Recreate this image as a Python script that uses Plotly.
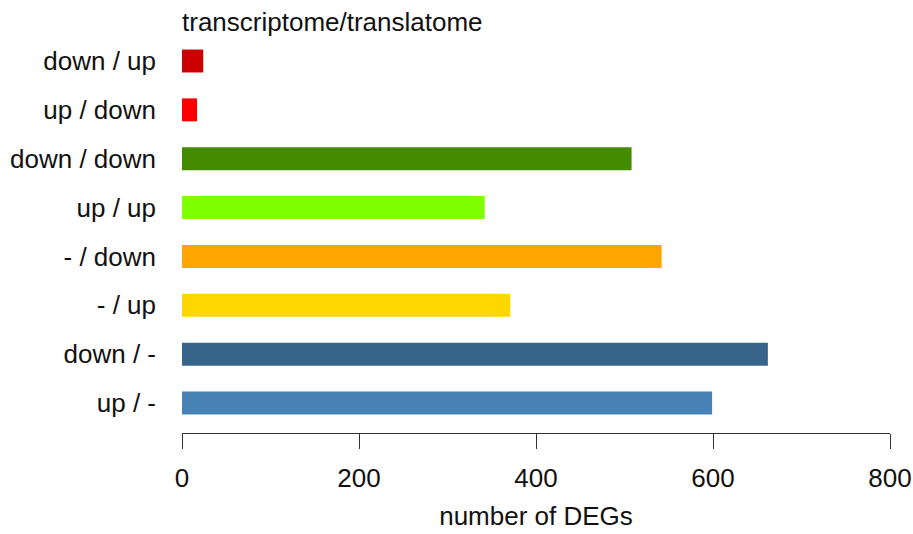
import plotly.graph_objects as go

# bottom-to-top order, as in the barplot call
categories = ['up / -', 'down / -', '- / up', '- / down',
              'up / up', 'down / down', 'up / down', 'down / up']
n_degs = [599, 662, 371, 542, 342, 508, 17, 24]
bar_colors = ['#4682B4', '#36648B', '#FFD700', '#FFA500',
              '#7FFF00', '#458B00', '#FF0000', '#CD0000']
x_ticks = [0, 200, 400, 600, 800]

font_family = 'Liberation Sans, Arial, sans-serif'

fig = go.Figure(go.Bar(
    x=n_degs,
    y=list(range(len(categories))),
    orientation='h',
    width=0.47,
    marker=dict(color=bar_colors, line=dict(width=0)),
    hoverinfo='skip',
))

fig.update_layout(
    width=913, height=534,
    margin=dict(l=182, r=23, t=40, b=101),
    paper_bgcolor='white', plot_bgcolor='white',
    font=dict(family=font_family, size=26, color='#111111'),
    showlegend=False,
    annotations=[dict(
        text='transcriptome/translatome', x=-0.003, y=1.046,
        xref='paper', yref='paper', xanchor='left', yanchor='middle',
        showarrow=False, font=dict(size=26),
    )],
)

fig.update_xaxes(
    range=[0, 800], tickvals=x_ticks, automargin=False,
    showline=True, linecolor='#333333', linewidth=1.4,
    ticks='outside', ticklen=15, tickcolor='#333333', tickwidth=1.4,
    ticklabelstandoff=7,
    showgrid=False, zeroline=False,
    title=dict(text='number of DEGs', standoff=14, font=dict(size=26)),
)
fig.update_yaxes(
    range=[-0.614, 7.43], automargin=False,
    tickvals=list(range(len(categories))), ticktext=categories,
    showline=False, showgrid=False, zeroline=False,
    ticks='', ticklabelstandoff=25,
)

# drop the default page margin so the figure sits at the window origin
fig.write_html('out.html', config={'displayModeBar': False},
               post_script="document.body.style.margin='0';")
